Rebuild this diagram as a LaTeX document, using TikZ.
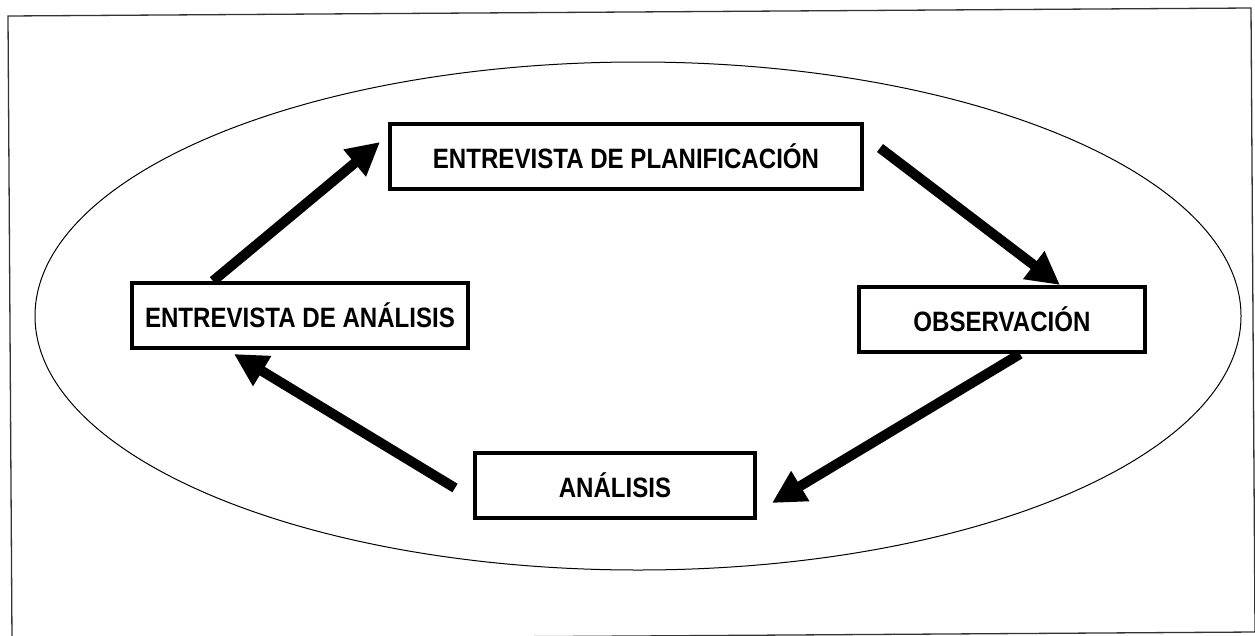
\documentclass[tikz,border=0pt]{standalone}
\usepackage{fontspec}
\setmainfont{Liberation Sans}
\usetikzlibrary{arrows.meta,calc}
\newcommand{\stagetext}[1]{\scalebox{0.86}[1]{#1}}
\tikzset{
  stagebox/.style={draw=black, line width=4pt, inner sep=0pt, minimum height=65pt,
    font=\bfseries\fontsize{28}{32}\selectfont, text=black},
  flowarrow/.style={draw=black, line width=10pt,
    -{Triangle[length=33pt,width=33pt]}},
  framebox/.style={draw=black!80, line width=1.3pt},
  cycleoval/.style={draw=black, line width=1pt}
}
\begin{document}
\begin{tikzpicture}[x=1pt,y=-1pt]
\useasboundingbox (0,0) rectangle (1255,635);
\fill[white] (0,0) rectangle (1255,635);
\draw[framebox] (8,16) -- (1251,8) -- (1255,632) -- (12,640) -- cycle;
\draw[cycleoval] (638,316) ellipse [x radius=603, y radius=254];

\node[stagebox, minimum width=472pt] (b1) at (626,156) {\stagetext{ENTREVISTA DE PLANIFICACIÓN}};
\node[stagebox, minimum width=336pt] (b2) at (300,315.5) {\stagetext{ENTREVISTA DE ANÁLISIS}};
\node[stagebox, minimum width=286pt] (o) at (1002,319.5) {\stagetext{OBSERVACIÓN}};
\node[stagebox, minimum width=280pt] (an) at (615,485.5) {\stagetext{ANÁLISIS}};

\draw[flowarrow] ([xshift=83pt]b2.north west) -- ([xshift=-8pt,yshift=14pt]b1.west);
\draw[flowarrow] ([xshift=16pt,yshift=8pt]b1.east) -- ([xshift=203pt]o.north west);
\draw[flowarrow] ([xshift=163pt]o.south west) -- ([xshift=15pt,yshift=-17.5pt]an.east);
\draw[flowarrow] ([xshift=-18pt,yshift=-2.5pt]an.west) -- ([xshift=104pt,yshift=-4pt]b2.south west);
\end{tikzpicture}
\end{document}
